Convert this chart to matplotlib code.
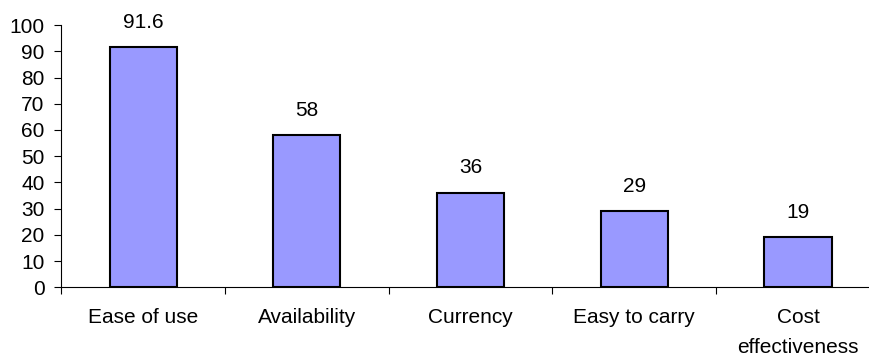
import numpy as np
import matplotlib
matplotlib.use('Agg')
import matplotlib.pyplot as plt
import matplotlib.ticker as tkr

categories = ['Ease of use', 'Availability', 'Currency', 'Easy to carry', 'Cost\neffectiveness']
values = [91.6, 58, 36, 29, 19]
value_labels = ['91.6', '58', '36', '29', '19']

plt.rcParams['font.family'] = ['Liberation Sans', 'DejaVu Sans']
plt.rcParams['font.size'] = 15

figure = plt.figure(figsize=(8.69, 3.58), dpi=100)
# axis runs a little past the right edge of the figure
axis = figure.add_axes([0.0705, 0.1975, 1.0125 - 0.0705, 0.930 - 0.1975])

x = np.arange(len(categories))
axis.bar(x, values, width=0.41, color='#9999FF', edgecolor='black', linewidth=1.5, zorder=3)

for xi, v, lab in zip(x, values, value_labels):
    axis.annotate(lab, (xi, v), xytext=(0, 14), textcoords='offset points',
                  ha='center', va='baseline')

axis.set_xlim(-0.5, len(categories) - 0.5)
axis.set_ylim(0, 100)
axis.yaxis.set_major_locator(tkr.MultipleLocator(10))

# tick marks between categories, labels at the centres
axis.set_xticks(np.arange(len(categories) + 1) - 0.5)
axis.set_xticklabels([])
axis.set_xticks(x, minor=True)
axis.set_xticklabels(categories, minor=True, linespacing=1.75)
axis.tick_params(axis='x', which='major', length=5, width=0.8, direction='out')
axis.tick_params(axis='x', which='minor', length=0, pad=15)
axis.tick_params(axis='y', length=5, width=0.8, direction='out', pad=7)

for side in ['top', 'right']:
    axis.spines[side].set_visible(False)
for side in ['left', 'bottom']:
    axis.spines[side].set_linewidth(0.8)

figure.savefig('out.png', dpi=100)
